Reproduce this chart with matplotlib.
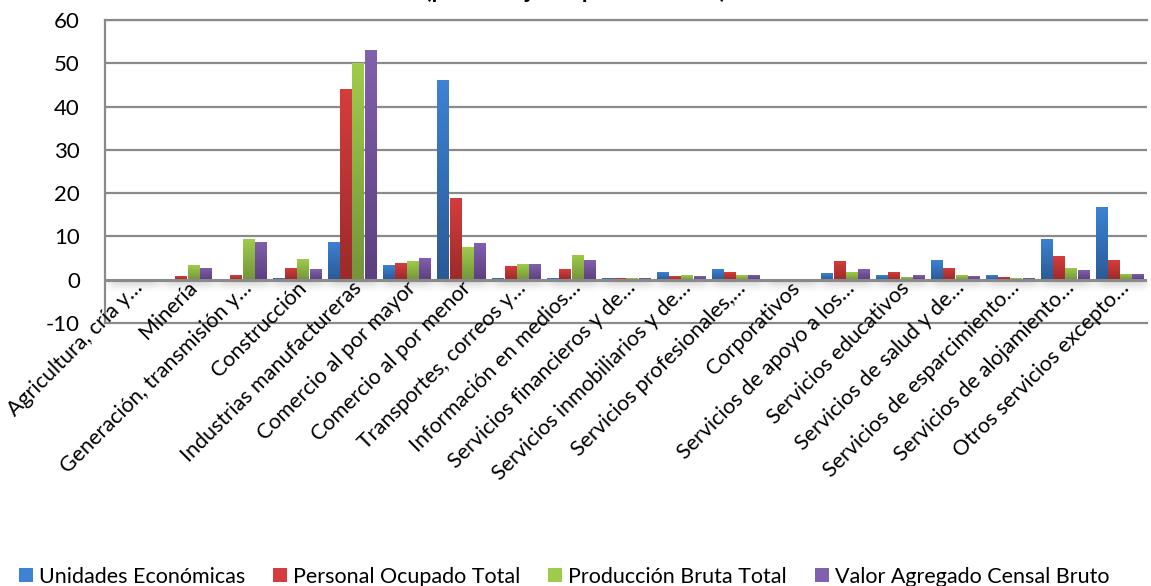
import numpy as np
import matplotlib
matplotlib.use("Agg")
import matplotlib.pyplot as plt
from matplotlib.colors import LinearSegmentedColormap
from matplotlib.patches import Patch

plt.rcParams["font.family"] = ["Lato", "DejaVu Sans"]

categories = [
    "Agricultura, cría y…",
    "Minería",
    "Generación, transmisión y…",
    "Construcción",
    "Industrias manufactureras",
    "Comercio al por mayor",
    "Comercio al por menor",
    "Transportes, correos y…",
    "Información en medios…",
    "Servicios financieros y de…",
    "Servicios inmobiliarios y de…",
    "Servicios profesionales,…",
    "Corporativos",
    "Servicios de apoyo a los…",
    "Servicios educativos",
    "Servicios de salud y de…",
    "Servicios de esparcimiento…",
    "Servicios de alojamiento…",
    "Otros servicios excepto…",
]

series_names = [
    "Unidades Económicas",
    "Personal Ocupado Total",
    "Producción Bruta Total",
    "Valor Agregado Censal Bruto",
]

unidades = [0.2, 0.1, 0.1, 0.5, 8.8, 3.4, 46.1, 0.5, 0.4, 0.5, 1.7, 2.4, 0.05, 1.6, 1.15, 4.6, 1.15, 9.5, 16.8]
personal = [0.2, 0.8, 1.1, 2.8, 44.0, 3.9, 18.9, 3.2, 2.5, 0.3, 0.8, 1.7, 0.1, 4.4, 1.8, 2.8, 0.7, 5.5, 4.6]
produccion = [0.2, 3.4, 9.3, 4.7, 50.0, 4.3, 7.6, 3.6, 5.8, 0.3, 1.0, 1.0, 0.1, 1.8, 0.7, 1.15, 0.45, 2.8, 1.4]
valor = [0.2, 2.8, 8.8, 2.4, 53.0, 5.0, 8.5, 3.6, 4.5, 0.3, 0.8, 1.2, 0.05, 2.5, 1.15, 0.9, 0.45, 2.3, 1.4]

y_ticks = [-10, 0, 10, 20, 30, 40, 50, 60]
title_text = "(porcentaje respecto al total)"

# light (top) / dark (bottom) shade of each series
top_colors = ["#3d82d3", "#d43d3c", "#9fcb4b", "#8160ad"]
bottom_colors = ["#2a5a96", "#9c2a2a", "#74953a", "#5c3f80"]

fig = plt.figure(figsize=(11.51, 5.86), dpi=100)
ax = fig.add_axes([0.0912, 0.4488, 0.9053, 0.5171])

n = len(categories)
x = np.arange(n)
pitch = 0.224
width = 0.205
offsets = (np.arange(4) - 1.5) * pitch
all_series = [unidades, personal, produccion, valor]

ax.set_xlim(-0.5, n - 0.5)
ax.set_ylim(-10, 60)

# grid lines
for t in y_ticks:
    if t in (-10, 0):
        continue
    ax.axhline(t, color="#8a8a8a", lw=1.6, zorder=1)

grad = np.linspace(0, 1, 64).reshape(-1, 1)

# horizontal sampling grid for the soft shadow under the baseline
sx = np.linspace(-0.5, n - 0.5, 2400)
shadow_mask = np.zeros_like(sx)

for k, vals in enumerate(all_series):
    cmap = LinearSegmentedColormap.from_list(
        f"g{k}", [bottom_colors[k], top_colors[k]])
    bars = ax.bar(x + offsets[k], vals, width=width, color=top_colors[k],
                  zorder=3, label=series_names[k], linewidth=0)
    for b in bars:
        bx, bw, bh = b.get_x(), b.get_width(), b.get_height()
        if bh <= 0:
            continue
        im = ax.imshow(grad, cmap=cmap, aspect="auto", origin="lower",
                       extent=(bx, bx + bw, 0, bh), zorder=3.5,
                       interpolation="bicubic")
        im.set_clip_path(b)
        shadow_mask[(sx >= bx + 0.03) & (sx <= bx + bw + 0.03)] = 1.0

# blur the shadow footprint sideways and fade it downwards
kx = np.arange(-40, 41)
kernel = np.exp(-0.5 * (kx / 12.0) ** 2)
kernel /= kernel.sum()
shadow_row = np.convolve(shadow_mask, kernel, mode="same")
fade = np.linspace(0.0, 1.0, 40) ** 1.5
fade = np.where(fade > 0.85, (1.0 - fade) / 0.15 + 0.0, 1.0) * fade
shadow = np.zeros((40, sx.size, 4))
shadow[..., :3] = 0.45
shadow[..., 3] = 0.38 * fade[:, None] * shadow_row[None, :]
ax.imshow(shadow, aspect="auto", origin="lower",
          extent=(-0.5, n - 0.5, -3.0, -0.2), zorder=2,
          interpolation="bilinear")
ax.set_xlim(-0.5, n - 0.5)
ax.set_ylim(-10, 60)

ax.axhline(0, color="#8a8a8a", lw=2.2, zorder=4)

for side in ("top", "right"):
    ax.spines[side].set_visible(False)
ax.axhline(60, color="#8a8a8a", lw=1.6, zorder=1, clip_on=False)
ax.spines["left"].set_color("#8a8a8a")
ax.spines["left"].set_linewidth(1.6)
ax.spines["bottom"].set_color("#8a8a8a")
ax.spines["bottom"].set_linewidth(1.6)

ax.set_yticks(y_ticks)
ax.set_yticklabels([str(t) for t in y_ticks], fontsize=16)
ax.tick_params(axis="y", length=0, pad=18)
ax.set_xticks([])

for i, lab in enumerate(categories):
    ax.text(i + 0.12, -1.2, lab, rotation=45, rotation_mode="anchor",
            ha="right", va="center", fontsize=15.5, color="#000000",
            clip_on=False, zorder=6)

# chart title sits above the top edge; only its lowest strokes show
fig.text(0.5, 1.0035, title_text, ha="center", va="baseline",
         fontsize=17, fontweight="bold")

handles = [Patch(facecolor=top_colors[k], edgecolor="none") for k in range(4)]
fig.legend(handles, series_names, loc="lower center", ncol=4,
           bbox_to_anchor=(0.49, -0.034), frameon=False, fontsize=15.5,
           handlelength=0.65, handleheight=0.65, handletextpad=0.28,
           columnspacing=1.3)

fig.savefig("out.png", dpi=100)
